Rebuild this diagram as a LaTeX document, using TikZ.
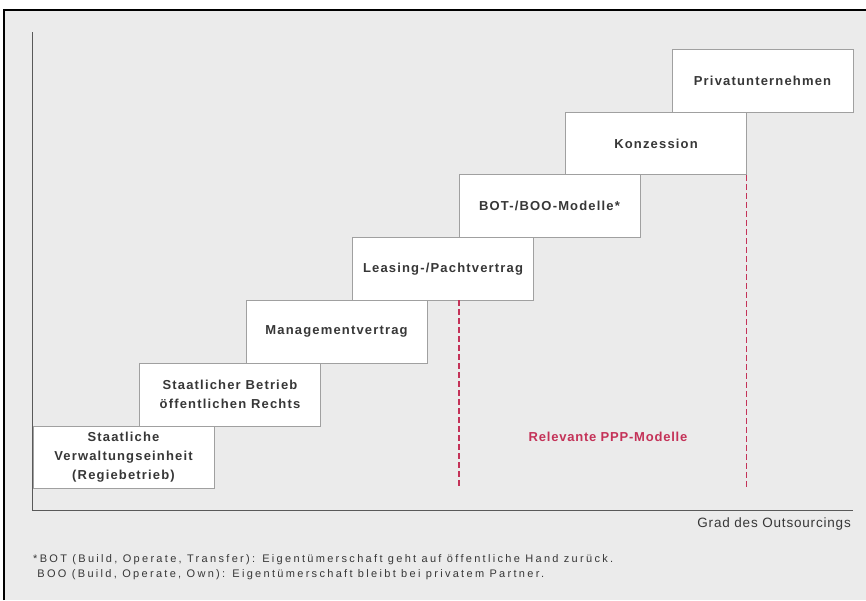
\documentclass[tikz,border=0pt]{standalone}
\usepackage{fontspec}
\setmainfont{Liberation Sans}
\newfontfamily\stufenfont[LetterSpace=9]{Liberation Sans}
\newfontfamily\achsenfont[LetterSpace=6]{Liberation Sans}
\newfontfamily\fussfont[LetterSpace=21]{Liberation Sans}
\usepackage{tikz}
\usetikzlibrary{positioning}
\definecolor{hgrund}{RGB}{235,235,235}
\definecolor{pppred}{RGB}{196,50,88}
\definecolor{textgrau}{RGB}{55,55,55}
\definecolor{rahmengrau}{RGB}{160,160,160}
\tikzset{
    stufe/.style={rectangle, draw=rahmengrau, fill=white, line width=1pt, outer sep=0pt, inner sep=0pt,
      minimum width=181pt, minimum height=62.8pt, align=center, text=textgrau,
      font=\stufenfont\bfseries\fontsize{13}{19}\selectfont},
    ppplinie/.style={draw=pppred, line width=1.2pt, dash pattern=on 6pt off 3pt},
    achse/.style={draw=black!65, line width=1pt},
    klein/.style={text=textgrau, inner sep=0pt}
}

\begin{document}
\begin{tikzpicture}[x=1pt, y=-1pt]
    \useasboundingbox (0,0) rectangle (866,600);
    \fill[white] (0,0) rectangle (866,600);
    \fill[hgrund] (4,10) rectangle (866,600);
    \draw[black, line width=1.5pt] (4,600) -- (4,10) -- (866,10);

    % Achsen
    \coordinate (ytop) at (32,32);
    \coordinate (ursprung) at (32,510);
    \coordinate (xend) at (853,510);
    \draw[achse] (ytop) -- (ursprung) -- (xend);

    % Stufen
    \node[stufe, anchor=north west] (regie) at (33,426)
      {Staatliche\\Verwaltungseinheit\\(Regiebetrieb)};
    \node[stufe, above right=0pt and -74.5pt of regie] (betrieb)
      {Staatlicher Betrieb\\öffentlichen Rechts};
    \node[stufe, above right=0pt and -74.5pt of betrieb] (management)
      {Managementvertrag};
    \node[stufe, above right=0pt and -74.5pt of management] (leasing)
      {Leasing-/Pachtvertrag};
    \node[stufe, above right=0pt and -74.5pt of leasing] (bot)
      {BOT-/BOO-Modelle*};
    \node[stufe, above right=0pt and -74.5pt of bot] (konzession)
      {Konzession};
    \node[stufe, above right=0pt and -74.5pt of konzession] (privat)
      {Privatunternehmen};

    % PPP-Bereich
    \draw[ppplinie] (bot.south west |- leasing.south) -- (bot.south west |- regie.south);
    \draw[ppplinie] (konzession.south east) -- (konzession.south east |- regie.south);
    \node[text=pppred, font=\achsenfont\bfseries\fontsize{13}{15}\selectfont] (ppp) at (608,437)
      {Relevante PPP-Modelle};

    \node[klein, anchor=base east, font=\achsenfont\fontsize{13.5}{15}\selectfont] (grad) at (851,527)
      {Grad des Outsourcings};
    \node[klein, anchor=base west, align=left, font=\fussfont\fontsize{11}{15}\selectfont] (fussnote) at (33,577)
      {*BOT (Build, Operate, Transfer): Eigentümerschaft geht auf öffentliche Hand zurück.\\
      \phantom{*}BOO (Build, Operate, Own): Eigentümerschaft bleibt bei privatem Partner.};
\end{tikzpicture}
\end{document}
